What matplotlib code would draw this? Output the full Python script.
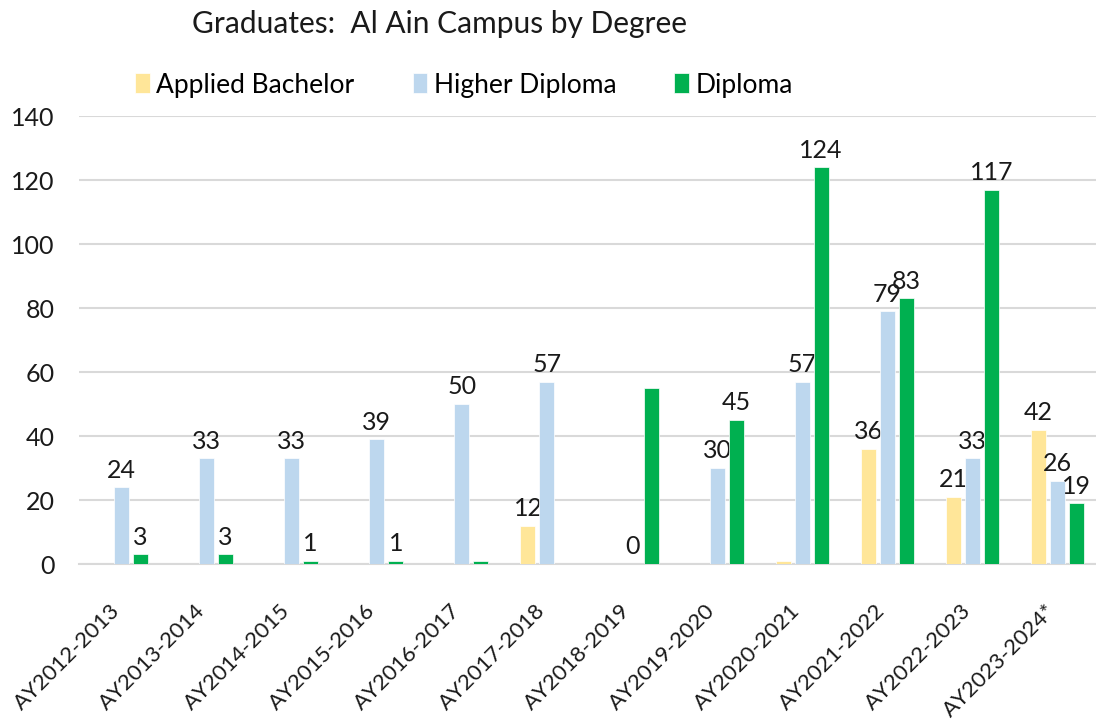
import numpy as np
import matplotlib
matplotlib.use("Agg")
import matplotlib.pyplot as plt
from matplotlib.transforms import ScaledTranslation

categories = ["AY2012-2013", "AY2013-2014", "AY2014-2015", "AY2015-2016",
              "AY2016-2017", "AY2017-2018", "AY2018-2019", "AY2019-2020",
              "AY2020-2021", "AY2021-2022", "AY2022-2023", "AY2023-2024*"]
nan = np.nan
applied_bachelor = [nan, nan, nan, nan, nan, 12, nan, nan, 1, 36, 21, 42]
higher_diploma = [24, 33, 33, 39, 50, 57, 0, 30, 57, 79, 33, 26]
diploma = [3, 3, 1, 1, 1, nan, 55, 45, 124, 83, 117, 19]
# which bars carry a data label in the original
ab_labeled = [False, False, False, False, False, True, False, False, False, True, True, True]
hd_labeled = [True] * 12
d_labeled = [True, True, True, True, False, False, False, True, True, True, True, True]

series_names = ["Applied Bachelor", "Higher Diploma", "Diploma"]
colors = ["#FFE699", "#BDD7EE", "#00B050"]
yticks = [0, 20, 40, 60, 80, 100, 120, 140]

plt.rcParams['font.family'] = ['Lato', 'DejaVu Sans']

W, H = 1096, 724
fig = plt.figure(figsize=(W / 100, H / 100), dpi=100)
ax = fig.add_axes([79 / W, 1 - 564 / H, (1100 - 79) / W, (564 - 116) / H])

x = np.arange(len(categories))
step = 0.223
width = 0.176
all_series = [applied_bachelor, higher_diploma, diploma]
labeled = [ab_labeled, hd_labeled, d_labeled]
for k, (vals, col, name, lab) in enumerate(zip(all_series, colors, series_names, labeled)):
    pos = x + (k - 1) * step
    ax.bar(pos, vals, width=width, color=col, label=name, zorder=3,
           edgecolor='white', linewidth=0.5)
    for p, v, l in zip(pos, vals, lab):
        if l and not np.isnan(v):
            ax.annotate(f"{int(v)}", (p, v), xytext=(0, 4), textcoords='offset points',
                        ha='center', va='bottom', fontsize=18, color='#1a1a1a')

ax.set_xlim(-0.5, len(categories) - 0.5)
ax.set_ylim(0, 140)
ax.set_yticks(yticks)
ax.yaxis.grid(True, color='#d9d9d9', linewidth=1.5, zorder=0)
ax.set_axisbelow(True)
for s in ['top', 'right', 'left']:
    ax.spines[s].set_visible(False)
ax.spines['bottom'].set_color('#d9d9d9')
ax.spines['bottom'].set_linewidth(1.5)
ax.tick_params(axis='both', length=0, colors='#1a1a1a')
ax.tick_params(axis='y', pad=17.5, labelsize=18)
ax.tick_params(axis='x', pad=12, labelsize=16)
ax.set_xticks(x)
ax.set_xticklabels(categories, rotation=45, ha='right', rotation_mode='anchor')
offset = ScaledTranslation(-12 / 100, -20 / 100, fig.dpi_scale_trans)
for lbl in ax.get_xticklabels():
    lbl.set_transform(lbl.get_transform() + offset)

fig.text(440 / W, 1 - 24 / H, "Graduates:  Al Ain Campus by Degree",
         ha='center', va='center', fontsize=21.5, color='#1a1a1a')

handles, labels_ = ax.get_legend_handles_labels()
fig.legend(handles, labels_, loc='center', bbox_to_anchor=(464 / W, 1 - 85 / H),
           ncol=3, frameon=False, fontsize=19, handlelength=0.55, handleheight=0.8,
           handletextpad=0.25, columnspacing=2.2)

fig.savefig("out.png", dpi=100)
